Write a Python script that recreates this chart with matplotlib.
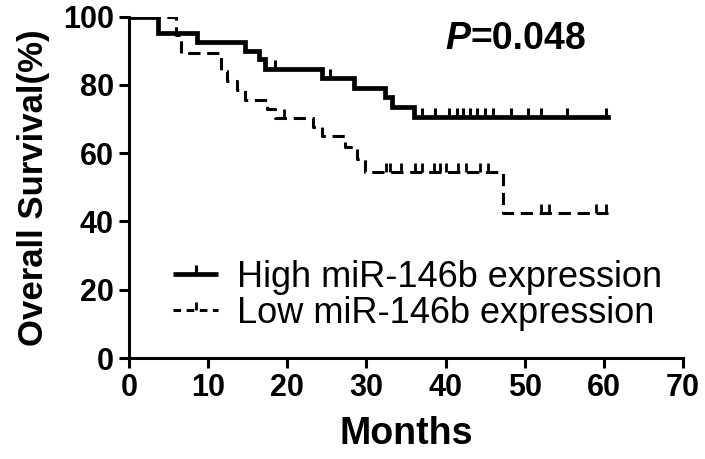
import numpy as np
import matplotlib
matplotlib.use("Agg")
import matplotlib.pyplot as plt
from matplotlib.path import Path
from matplotlib.lines import Line2D

# ---- data ----
high_times = [0, 3.6, 8.6, 14.6, 16.4, 17.2, 24.4, 28.4, 32.4, 33.2, 36.0, 60.5]
high_surv = [100, 95.1, 92.4, 89.8, 87.5, 84.7, 81.9, 79.1, 76.4, 73.6, 70.6, 70.6]
high_censor_t = [18.5, 25.4, 37.0, 38.7, 40.4, 41.4, 42.2, 43.1, 43.9, 45.0,
                 46.0, 48.3, 50.4, 52.1, 55.3, 60.3]

low_times = [0, 5.9, 6.6, 11.6, 12.4, 13.6, 14.7, 17.4, 18.5, 23.3, 24.4,
             27.3, 28.8, 29.8, 47.2, 60.5]
low_surv = [100, 94.6, 89.2, 84.0, 81.1, 78.4, 75.7, 73.0, 70.3, 67.6, 64.9,
            61.8, 58.4, 54.4, 42.5, 42.5]
low_censor_t = [19.6, 32.5, 33.0, 34.3, 36.1, 37.0, 38.5, 39.3, 40.1, 41.6,
                42.6, 44.4, 45.4, 52.0, 53.0, 59.0, 60.2]

labels = ["High miR-146b expression", "Low miR-146b expression"]
x_ticks = [0, 10, 20, 30, 40, 50, 60, 70]
y_ticks = [0, 20, 40, 60, 80, 100]
p_text = ("P", "=0.048")

FONT = "Liberation Sans"
plt.rcParams["font.family"] = [FONT, "DejaVu Sans"]


def step_value(times, surv, t):
    idx = np.searchsorted(np.asarray(times), t, side="right") - 1
    return np.asarray(surv)[idx]


fig = plt.figure(figsize=(7.05, 4.59), dpi=100)
ax = fig.add_axes([0.183, 0.22, 0.786, 0.744])

up_tick = Path([(0, 0), (0, 1)], [Path.MOVETO, Path.LINETO])

# high
ax.step(high_times, high_surv, where="post", color="black", lw=3.4,
        solid_joinstyle="miter", zorder=3)
ax.plot(high_censor_t, [step_value(high_times, high_surv, t) for t in high_censor_t],
        ls="none", marker=up_tick, ms=13, mew=2.2, color="black", zorder=3)

# low
ax.step(low_times, low_surv, where="post", color="black", lw=2.2,
        dashes=(4, 2.2), zorder=2)
ax.plot(low_censor_t, [step_value(low_times, low_surv, t) for t in low_censor_t],
        ls="none", marker=up_tick, ms=13, mew=2.0, color="black", zorder=2)

ax.set_xlim(0, 70)
ax.set_ylim(0, 100)
ax.set_xticks(x_ticks)
ax.set_yticks(y_ticks)
for s in ["top", "right"]:
    ax.spines[s].set_visible(False)
for s in ["left", "bottom"]:
    ax.spines[s].set_linewidth(2.2)
ax.tick_params(direction="out", length=7, width=2.2, labelsize=22, pad=4)
for lab in ax.get_xticklabels() + ax.get_yticklabels():
    lab.set_fontweight("bold")

ax.set_xlabel("Months", fontsize=27, fontweight="bold", labelpad=9)
ax.set_ylabel("Overall Survival(%)", fontsize=25, fontweight="bold", labelpad=9)

# P value
t1 = ax.text(40.0, 90.6, p_text[0], fontsize=27, fontweight="bold",
             fontstyle="italic", va="baseline", ha="left")
ax.annotate(p_text[1], xy=(1, 0), xycoords=t1, fontsize=27, fontweight="bold",
            va="bottom", ha="left")

# legend
h_high = Line2D([0], [0], color="black", lw=3.4, marker=up_tick, ms=13, mew=2.2,
                solid_capstyle="butt")
h_low = Line2D([0], [0], color="black", lw=2.2, dashes=(2.5, 1.8), marker=up_tick,
               ms=11, mew=2.0)
leg = ax.legend([h_high, h_low], labels, loc="lower left",
                bbox_to_anchor=(0.08, 0.079), frameon=False, fontsize=26,
                handlelength=1.25, handletextpad=0.5, labelspacing=0.03,
                borderpad=0.0, borderaxespad=0.0, numpoints=1)

fig.savefig("out.png", dpi=100)
